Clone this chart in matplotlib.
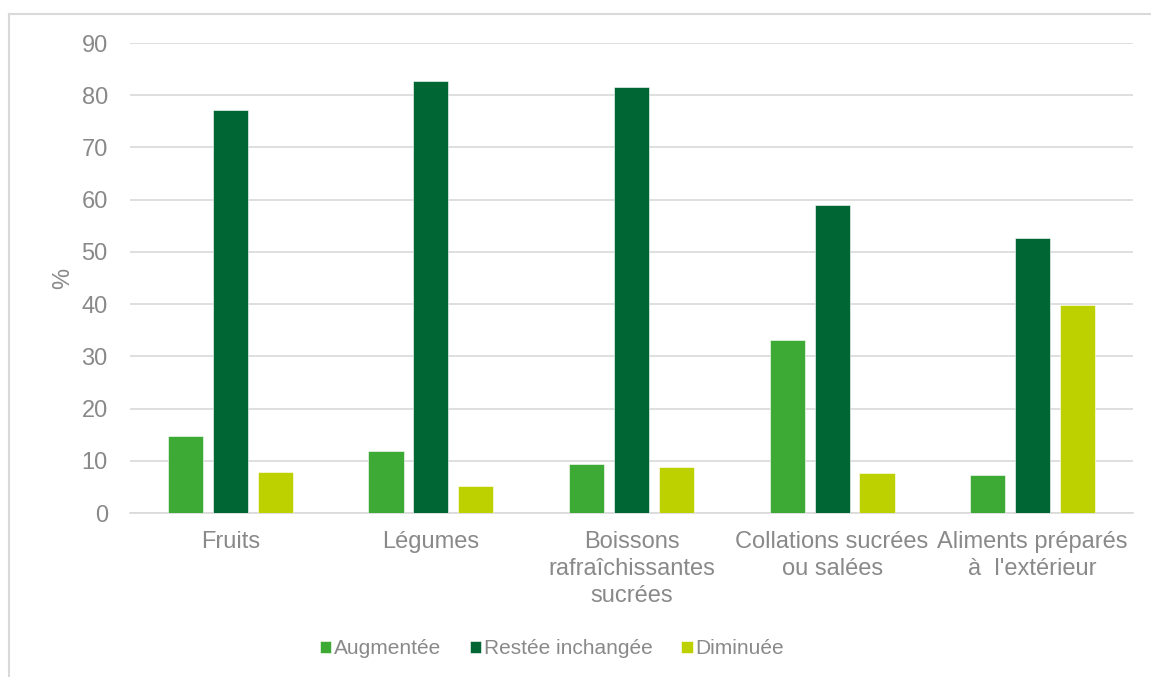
import matplotlib.pyplot as plt
import numpy as np
from matplotlib.lines import Line2D

plt.rcParams['font.family'] = ['Liberation Sans', 'DejaVu Sans']

categories = ['Fruits', 'Légumes', 'Boissons\nrafraîchissantes\nsucrées',
              'Collations sucrées\nou salées', 'Aliments préparés\nà  l\'extérieur']
series_names = ['Augmentée', 'Restée inchangée', 'Diminuée']
augmentee = [14.8, 11.9, 9.4, 33.1, 7.3]
restee = [77.1, 82.7, 81.5, 59.0, 52.6]
diminuee = [7.9, 5.1, 8.8, 7.6, 39.8]
yticks = [0, 10, 20, 30, 40, 50, 60, 70, 80, 90]

colors = ['#3caa35', '#006633', '#bed100']
text_gray = '#898989'
grid_gray = '#d9d9d9'

W, H = 1151, 677
fig = plt.figure(figsize=(W / 100, H / 100), dpi=100)
ax = fig.add_axes([130 / W, 1 - 513 / H, (1133 - 130) / W, (513 - 43) / H])

x = np.arange(len(categories))
width = 0.175
step = 0.224
for i, (vals, name) in enumerate(zip([augmentee, restee, diminuee], series_names)):
    ax.bar(x + (i - 1) * step, vals, width, color=colors[i], label=name,
           edgecolor='white', linewidth=0.4, zorder=3)

ax.set_xlim(-0.5, len(categories) - 0.5)
ax.set_ylim(0, 90)
ax.set_yticks(yticks)
ax.set_xticks(x)
ax.set_xticklabels(categories, linespacing=1.3)
ax.yaxis.grid(True, color=grid_gray, linewidth=1.2, zorder=0)
ax.set_axisbelow(True)
for s in ['top', 'right', 'left']:
    ax.spines[s].set_visible(False)
ax.spines['bottom'].set_color(grid_gray)
ax.spines['bottom'].set_linewidth(1.2)
ax.tick_params(axis='both', length=0, labelsize=17, labelcolor=text_gray)
ax.tick_params(axis='y', pad=16)
ax.tick_params(axis='x', pad=13)
ax.set_ylabel('%', fontsize=17, color=text_gray, labelpad=5)

# outer chart frame (only top and left edges fall inside the image)
fig.add_artist(Line2D([9 / W, 1], [1 - 14 / H, 1 - 14 / H], color=grid_gray, linewidth=1.5))
fig.add_artist(Line2D([9 / W, 9 / W], [0, 1 - 14 / H], color=grid_gray, linewidth=1.5))

handles, labels = ax.get_legend_handles_labels()
leg = fig.legend(handles, labels, loc='center', bbox_to_anchor=(552 / W, 1 - 649 / H),
                 ncol=3, frameon=False, fontsize=15, handlelength=0.55, handleheight=0.55,
                 handletextpad=0.15, columnspacing=1.35)
for t in leg.get_texts():
    t.set_color(text_gray)

fig.savefig('out.png', dpi=100)
